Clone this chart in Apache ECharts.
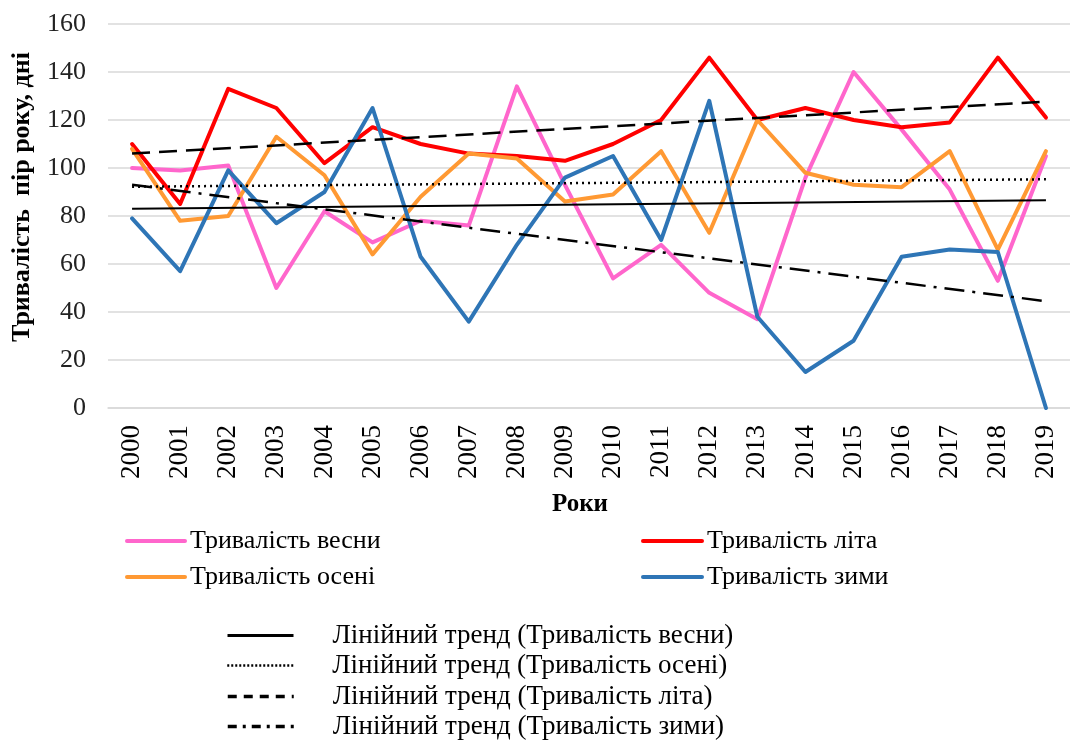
<!DOCTYPE html>
<html>
<head>
<meta charset="utf-8">
<script src="https://cdn.jsdelivr.net/npm/echarts@6/dist/echarts.min.js"></script>
<style>
html,body{margin:0;padding:0;background:#fff;}
#chart{width:1070px;height:742px;}
</style>
</head>
<body>
<div id="chart"></div>
<script>
// ---- data ----
const years = ['2000','2001','2002','2003','2004','2005','2006','2007','2008','2009','2010','2011','2012','2013','2014','2015','2016','2017','2018','2019'];
const spring = [100,99,101,50,82,69,78,76,134,93,54,68,48,37,96,140,116,91,53,105];
const summer = [110,85,133,125,102,117,110,106,105,103,110,120,146,120,125,120,117,119,146,121];
const autumn = [108,78,80,113,97,64,88,106,104,86,89,107,73,120,98,93,92,107,66,107];
const winter = [79,57,99,77,90,125,63,36,68,96,105,70,128,38,15,28,63,66,65,0];
// linear trend lines: value at first year and at last year
const springTrend = [83, 86.6];
const autumnTrend = [92.2, 95.3];
const summerTrend = [106, 127.7];
const winterTrend = [93, 44.5];
const yTicks = [0,20,40,60,80,100,120,140,160];

const names = {
  spring: 'Тривалість весни',
  summer: 'Тривалість літа',
  autumn: 'Тривалість осені',
  winter: 'Тривалість зими',
  tSpring: 'Лінійний тренд (Тривалість весни)',
  tAutumn: 'Лінійний тренд (Тривалість осені)',
  tSummer: 'Лінійний тренд (Тривалість літа)',
  tWinter: 'Лінійний тренд (Тривалість зими)'
};

function endpoints(pair) {
  return years.map((y, i) => i === 0 ? pair[0] : (i === years.length - 1 ? pair[1] : null));
}

const FONT = '"Liberation Serif", "Times New Roman", serif';

function dataSeries(name, data, color) {
  return {
    name: name, type: 'line', data: data, symbol: 'none', smooth: false,
    lineStyle: { color: color, width: 4, cap: 'round', join: 'round' },
    itemStyle: { color: color }, z: 2
  };
}
function trendSeries(name, pair, dash, width) {
  return {
    name: name, type: 'line', data: endpoints(pair), connectNulls: true,
    symbol: 'none', lineStyle: { color: '#000', width: width, type: dash },
    itemStyle: { color: '#000' }, z: 3
  };
}

function legendItem(name, left, top, iconW, lineStyle, padLeft, fontSize) {
  return {
    data: [name], left: left, top: top, itemWidth: iconW, itemHeight: 14,
    padding: 0, selectedMode: false,
    itemStyle: { opacity: 0 },
    lineStyle: lineStyle || { width: 4 },
    textStyle: { fontFamily: FONT, fontSize: fontSize || 26, color: '#000', padding: [0, 0, 0, padLeft || 0] }
  };
}

const chart = echarts.init(document.getElementById('chart'), null, { renderer: 'canvas' });
chart.setOption({
  animation: false,
  backgroundColor: '#fff',
  grid: { left: 108, top: 24, right: -13, bottom: 334, containLabel: false },
  xAxis: {
    type: 'category', data: years, boundaryGap: true,
    axisLine: { show: true, lineStyle: { color: '#D9D9D9', width: 1.5 } },
    axisTick: { show: false },
    axisLabel: { rotate: 90, margin: 17, fontFamily: FONT, fontSize: 27, color: '#000', interval: 0 }
  },
  yAxis: {
    type: 'value', min: yTicks[0], max: yTicks[yTicks.length - 1], interval: 20,
    axisLine: { show: false }, axisTick: { show: false },
    splitLine: { lineStyle: { color: '#D9D9D9', width: 1.5 } },
    axisLabel: { margin: 22, fontFamily: FONT, fontSize: 26, color: '#222' }
  },
  legend: [
    legendItem(names.spring, 125, 528, 58),
    legendItem(names.autumn, 125, 564, 58),
    legendItem(names.summer, 641, 528, 59),
    legendItem(names.winter, 641, 564, 59),
    legendItem(names.tSpring, 226, 622, 66, { width: 3, type: 'solid' }, 34, 27),
    legendItem(names.tAutumn, 226, 652, 66, { width: 2.5, type: [2, 2] }, 34, 27),
    legendItem(names.tSummer, 226, 683, 66, { width: 3.5, type: [9, 7] }, 34, 27),
    legendItem(names.tWinter, 226, 713, 66, { width: 3.5, type: [9, 6, 3, 6] }, 34, 27)
  ],
  graphic: [
    { type: 'text', x: 22, y: 197, rotation: Math.PI / 2,
      style: { text: 'Тривалість  пір року, дні', font: 'bold 26px ' + FONT, fill: '#000', textAlign: 'center', textVerticalAlign: 'middle' } },
    { type: 'text', x: 580, y: 505,
      style: { text: 'Роки', font: 'bold 25px ' + FONT, fill: '#000', textAlign: 'center', textVerticalAlign: 'middle' } }
  ],
  series: [
    dataSeries(names.spring, spring, '#FF66CC'),
    dataSeries(names.summer, summer, '#FF0000'),
    dataSeries(names.autumn, autumn, '#FF9933'),
    dataSeries(names.winter, winter, '#2E75B6'),
    trendSeries(names.tSpring, springTrend, 'solid', 2),
    trendSeries(names.tAutumn, autumnTrend, [2, 4], 2.5),
    trendSeries(names.tSummer, summerTrend, [18, 9], 2.5),
    trendSeries(names.tWinter, winterTrend, [20, 8, 3, 8], 2.5)
  ]
});
</script>
</body>
</html>
